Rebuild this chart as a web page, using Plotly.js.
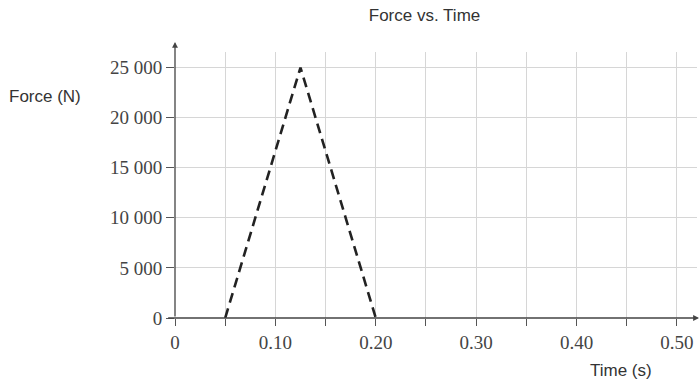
<!DOCTYPE html>
<html>
<head>
<meta charset="utf-8">
<script src="https://cdn.plot.ly/plotly-3.0.1.min.js"></script>
<style>html,body{margin:0;padding:0;background:#fff;}#chart{width:700px;height:381px;}</style>
</head>
<body>
<div id="chart"></div>
<script>
const timeValues = [0.05, 0.125, 0.20];
const forceValues = [0, 25000, 0];
const xTickVals = [0, 0.05, 0.10, 0.15, 0.20, 0.25, 0.30, 0.35, 0.40, 0.45, 0.50];
const xTickText = ['0', '', '0.10', '', '0.20', '', '0.30', '', '0.40', '', '0.50'];
const yTickVals = [0, 5000, 10000, 15000, 20000, 25000];
const yTickText = ['0', '5 000', '10 000', '15 000', '20 000', '25 000'];

const serif = {family: 'Liberation Serif, Times New Roman, serif', size: 19, color: '#444'};
const sans = {family: 'Liberation Sans, Arial, sans-serif', size: 17, color: '#333'};

const trace = {
  x: timeValues, y: forceValues, type: 'scatter', mode: 'lines',
  line: {color: '#222', width: 2.6, dash: '10px,6px'},
  hoverinfo: 'skip', cliponaxis: false
};

const layout = {
  width: 700, height: 381,
  margin: {l: 175, r: 3, t: 52, b: 63},
  paper_bgcolor: '#fff', plot_bgcolor: '#fff',
  showlegend: false,
  title: {text: 'Force vs. Time', font: sans, x: 0.478, xanchor: 'center', y: 0.96, yanchor: 'middle', xref: 'paper'},
  xaxis: {
    range: [0, 0.52], tickmode: 'array', tickvals: xTickVals, ticktext: xTickText,
    showgrid: true, gridcolor: '#d6d6d6', gridwidth: 1,
    zeroline: false, showline: false,
    ticks: 'outside', ticklen: 7, tickcolor: '#555', tickwidth: 1,
    tickfont: serif, fixedrange: true
  },
  yaxis: {
    range: [0, 26550], tickmode: 'array', tickvals: yTickVals, ticktext: yTickText,
    showgrid: true, gridcolor: '#d6d6d6', gridwidth: 1,
    zeroline: false, showline: false,
    ticks: 'outside', ticklen: 8, tickcolor: '#555', tickwidth: 1,
    tickfont: serif, fixedrange: true
  },
  annotations: [
    {xref: 'paper', yref: 'paper', x: 0, y: 1.038, ax: 0, ay: 0, axref: 'paper', ayref: 'paper',
     showarrow: true, arrowhead: 2, arrowsize: 0.9, arrowwidth: 1.3, arrowcolor: '#444', standoff: 0, startstandoff: 0, text: ''},
    {xref: 'paper', yref: 'paper', x: 1.006, y: 0, ax: -0.016, ay: 0, axref: 'paper', ayref: 'paper',
     showarrow: true, arrowhead: 2, arrowsize: 0.9, arrowwidth: 1.3, arrowcolor: '#444', standoff: 0, startstandoff: 0, text: ''},
    {xref: 'paper', yref: 'paper', x: -0.321, y: 0.831, xanchor: 'left', yanchor: 'middle',
     showarrow: false, text: 'Force (N)', font: sans},
    {xref: 'paper', yref: 'paper', x: 0.854, y: -0.199, xanchor: 'center', yanchor: 'middle',
     showarrow: false, text: 'Time (s)', font: sans}
  ]
};

Plotly.newPlot('chart', [trace], layout, {displayModeBar: false, staticPlot: true});
</script>
</body>
</html>
